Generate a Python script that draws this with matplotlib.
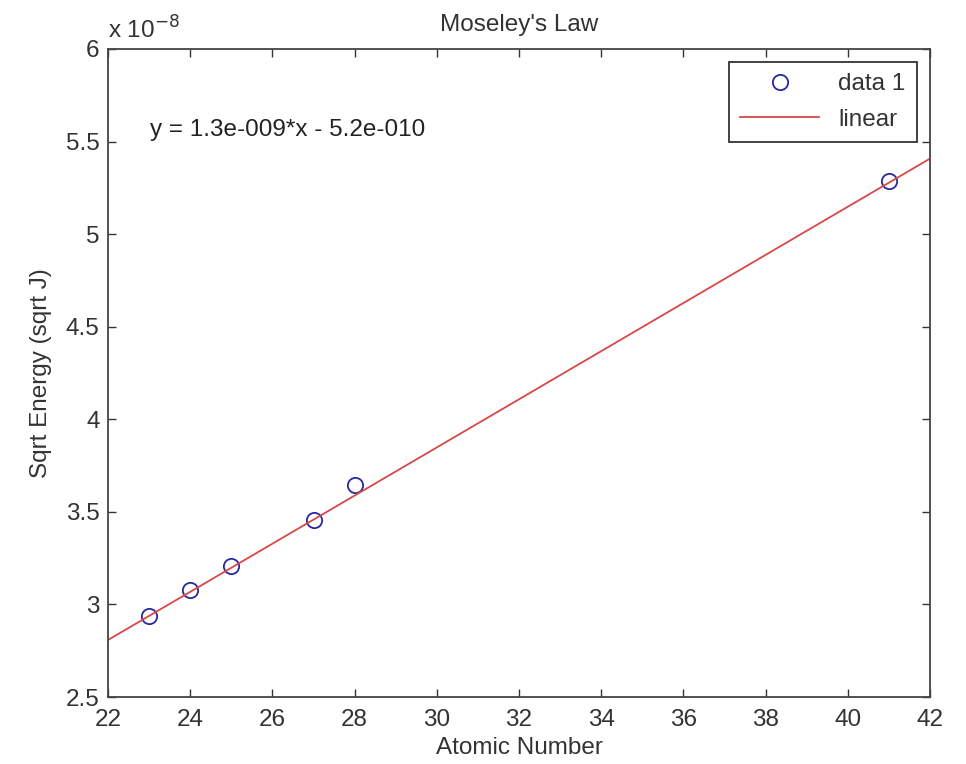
import numpy as np
import matplotlib
matplotlib.use("Agg")
import matplotlib.pyplot as plt

# atomic number vs sqrt of K-alpha energy (units of 1e-8 sqrt J)
atomic_number = np.array([23, 24, 25, 27, 28, 41])
sqrt_energy = np.array([2.94, 3.078, 3.205, 3.458, 3.645, 5.285])

fit_x = np.array([22, 42])
slope = 1.3e-9
intercept = -5.2e-10
fit_y = (slope * fit_x + intercept) * 1e8

x_ticks = [22, 24, 26, 28, 30, 32, 34, 36, 38, 40, 42]
y_ticks = [2.5, 3, 3.5, 4, 4.5, 5, 5.5, 6]

plt.rcParams["font.family"] = ["Liberation Sans", "DejaVu Sans"]
plt.rcParams["font.size"] = 17.5

fig = plt.figure(figsize=(9.66, 7.64), dpi=100)
ax = fig.add_axes([108 / 966, 1 - 697 / 764, (930 - 108) / 966, (697 - 49) / 764])

ax.plot(atomic_number, sqrt_energy, "o", mfc="none", mec="#2828a0", ms=11, mew=1.3, label="data 1")
ax.plot(fit_x, fit_y, "-", color="#d84848", lw=1.3, label="linear")

ax.set_xlim(22, 42)
ax.set_ylim(2.5, 6)
ax.set_xticks(x_ticks)
ax.set_yticks(y_ticks)
ax.set_yticklabels([("%g" % t) for t in y_ticks])
ax.tick_params(direction="in", length=6, width=1, top=True, right=True, colors="#333333", labelcolor="#333333")
ax.tick_params(axis="x", pad=9)
ax.tick_params(axis="y", pad=6)
for s in ax.spines.values():
    s.set_color("#444444")
    s.set_linewidth(1.3)

ax.set_xlabel("Atomic Number", color="#333333", labelpad=4)
ax.set_ylabel("Sqrt Energy (sqrt J)", color="#333333", labelpad=10)
ax.set_title("Moseley's Law", color="#333333", fontsize=17.5, pad=13)

ax.text(0, 1.008, "x 10$^{-8}$", transform=ax.transAxes, color="#333333", va="bottom", ha="left")
ax.text(0.051, 0.875, "y = 1.3e-009*x - 5.2e-010", transform=ax.transAxes, color="#222222", va="center")

leg = ax.legend(loc="upper right", fancybox=False, framealpha=1, edgecolor="#333333",
                borderaxespad=0.55, handlelength=3.25, handletextpad=0.8, borderpad=0.45, labelspacing=0.55)
leg.get_frame().set_linewidth(1.3)
for t in leg.get_texts():
    t.set_color("#333333")

fig.savefig("out.png", dpi=100)
